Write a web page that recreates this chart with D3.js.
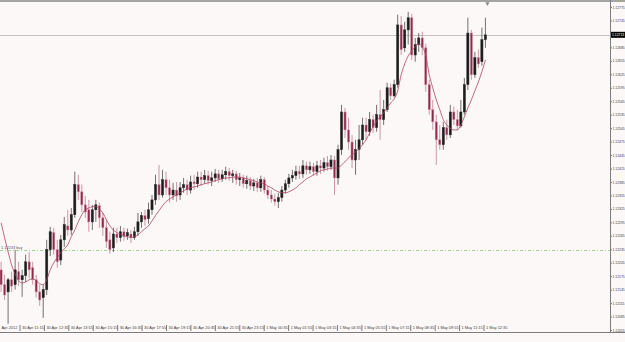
<!DOCTYPE html>
<html>
<head>
<meta charset="utf-8">
<script src="https://cdn.jsdelivr.net/npm/d3@7"></script>
<style>
  body { margin: 0; background: #fcf8f7; }
  svg { display: block; }
</style>
</head>
<body>
<div id="content"></div>
<script>
// EURUSD-style 5 digit quotes, one entry per candle
let opens = [1.12189,1.12156,1.12140,1.12167,1.12156,1.12185,1.12167,1.12176,1.12207,1.12194,
  1.12167,1.12140,1.12127,1.12145,1.12234,1.12272,1.12234,1.12211,1.12256,1.12287,
  1.12278,1.12312,1.12379,1.12363,1.12334,1.12323,1.12296,1.12323,1.12332,1.12305,
  1.12283,1.12256,1.12238,1.12269,1.12261,1.12274,1.12265,1.12269,1.12261,1.12274,
  1.12296,1.12310,1.12303,1.12323,1.12345,1.12379,1.12356,1.12390,1.12372,1.12356,
  1.12367,1.12356,1.12372,1.12379,1.12367,1.12385,1.12381,1.12396,1.12390,1.12399,
  1.12388,1.12394,1.12403,1.12392,1.12401,1.12408,1.12399,1.12403,1.12390,1.12394,
  1.12381,1.12388,1.12376,1.12383,1.12372,1.12390,1.12367,1.12356,1.12347,1.12341,
  1.12350,1.12367,1.12381,1.12394,1.12399,1.12408,1.12403,1.12421,1.12412,1.12419,
  1.12408,1.12421,1.12416,1.12428,1.12419,1.12434,1.12394,1.12457,1.12541,1.12501,
  1.12474,1.12434,1.12457,1.12479,1.12512,1.12497,1.12524,1.12506,1.12535,1.12524,
  1.12546,1.12595,1.12577,1.12602,1.12735,1.12684,1.12724,1.12751,1.12668,1.12691,
  1.12706,1.12684,1.12602,1.12546,1.12519,1.12479,1.12468,1.12506,1.12490,1.12541,
  1.12524,1.12510,1.12541,1.12602,1.12717,1.12624,1.12662,1.12653,1.12702];

let highs = [1.12207,1.12178,1.12171,1.12185,1.12234,1.12207,1.12189,1.12223,1.12229,1.12207,
  1.12178,1.12156,1.12156,1.12256,1.12285,1.12283,1.12256,1.12267,1.12307,1.12323,
  1.12327,1.12408,1.12401,1.12379,1.12354,1.12345,1.12334,1.12345,1.12339,1.12316,
  1.12301,1.12274,1.12283,1.12283,1.12287,1.12283,1.12281,1.12278,1.12285,1.12316,
  1.12318,1.12323,1.12339,1.12356,1.12401,1.12423,1.12412,1.12408,1.12390,1.12383,
  1.12385,1.12385,1.12394,1.12390,1.12399,1.12401,1.12408,1.12408,1.12412,1.12410,
  1.12408,1.12414,1.12412,1.12412,1.12419,1.12416,1.12412,1.12410,1.12405,1.12401,
  1.12399,1.12396,1.12392,1.12394,1.12399,1.12396,1.12376,1.12367,1.12359,1.12361,
  1.12376,1.12390,1.12403,1.12412,1.12421,1.12421,1.12434,1.12430,1.12430,1.12428,
  1.12432,1.12434,1.12439,1.12443,1.12445,1.12443,1.12468,1.12557,1.12550,1.12528,
  1.12490,1.12479,1.12512,1.12528,1.12528,1.12541,1.12535,1.12557,1.12590,1.12568,
  1.12606,1.12604,1.12613,1.12758,1.12755,1.12742,1.12764,1.12760,1.12706,1.12717,
  1.12720,1.12693,1.12613,1.12568,1.12535,1.12512,1.12519,1.12524,1.12557,1.12553,
  1.12546,1.12568,1.12617,1.12751,1.12724,1.12675,1.12680,1.12729,1.12751];

let lows = [1.12140,1.12122,1.12069,1.12140,1.12145,1.12153,1.12129,1.12162,1.12171,1.12156,
  1.12127,1.12109,1.12082,1.12133,1.12220,1.12223,1.12194,1.12200,1.12240,1.12265,
  1.12267,1.12305,1.12345,1.12318,1.12305,1.12274,1.12278,1.12296,1.12283,1.12265,
  1.12238,1.12225,1.12229,1.12249,1.12252,1.12254,1.12256,1.12249,1.12256,1.12265,
  1.12283,1.12287,1.12292,1.12312,1.12334,1.12345,1.12350,1.12356,1.12339,1.12345,
  1.12341,1.12345,1.12361,1.12356,1.12359,1.12367,1.12372,1.12376,1.12381,1.12379,
  1.12376,1.12385,1.12383,1.12385,1.12390,1.12388,1.12383,1.12379,1.12376,1.12372,
  1.12370,1.12367,1.12365,1.12363,1.12363,1.12359,1.12347,1.12339,1.12332,1.12327,
  1.12341,1.12359,1.12372,1.12385,1.12390,1.12392,1.12394,1.12401,1.12403,1.12399,
  1.12399,1.12403,1.12408,1.12410,1.12412,1.12356,1.12379,1.12445,1.12483,1.12457,
  1.12416,1.12401,1.12434,1.12468,1.12479,1.12488,1.12494,1.12497,1.12479,1.12512,
  1.12541,1.12568,1.12573,1.12595,1.12668,1.12675,1.12691,1.12657,1.12653,1.12675,
  1.12668,1.12586,1.12535,1.12501,1.12423,1.12457,1.12457,1.12479,1.12483,1.12512,
  1.12501,1.12506,1.12535,1.12590,1.12613,1.12617,1.12639,1.12644,1.12684];

let closes = [1.12156,1.12133,1.12167,1.12153,1.12189,1.12167,1.12176,1.12207,1.12189,1.12167,
  1.12140,1.12122,1.12145,1.12234,1.12274,1.12234,1.12207,1.12256,1.12290,1.12278,
  1.12312,1.12379,1.12363,1.12334,1.12318,1.12296,1.12323,1.12334,1.12305,1.12283,
  1.12252,1.12234,1.12269,1.12261,1.12274,1.12263,1.12272,1.12261,1.12274,1.12296,
  1.12310,1.12301,1.12323,1.12345,1.12379,1.12356,1.12390,1.12372,1.12356,1.12367,
  1.12354,1.12372,1.12379,1.12367,1.12385,1.12381,1.12396,1.12390,1.12399,1.12388,
  1.12394,1.12403,1.12392,1.12401,1.12408,1.12399,1.12403,1.12390,1.12394,1.12381,
  1.12388,1.12376,1.12383,1.12372,1.12390,1.12367,1.12356,1.12347,1.12341,1.12350,
  1.12367,1.12381,1.12394,1.12399,1.12408,1.12403,1.12421,1.12412,1.12419,1.12408,
  1.12421,1.12416,1.12428,1.12419,1.12434,1.12394,1.12457,1.12541,1.12501,1.12474,
  1.12434,1.12457,1.12479,1.12512,1.12497,1.12524,1.12506,1.12535,1.12524,1.12546,
  1.12595,1.12577,1.12602,1.12735,1.12680,1.12724,1.12751,1.12668,1.12691,1.12706,
  1.12684,1.12602,1.12546,1.12519,1.12479,1.12468,1.12506,1.12490,1.12541,1.12524,
  1.12510,1.12541,1.12602,1.12717,1.12624,1.12662,1.12648,1.12702,1.12713];

// moving average as plotted (its first values come from bars left of the window)
let maValues = [1.12294,1.12261,1.12229,1.12200,1.12180,1.12165,1.12160,1.12162,1.12167,1.12169,
  1.12165,1.12158,1.12156,1.12167,1.12189,1.12205,1.12216,1.12227,1.12236,1.12245,
  1.12263,1.12278,1.12296,1.12312,1.12323,1.12327,1.12330,1.12330,1.12325,1.12316,
  1.12301,1.12287,1.12278,1.12272,1.12269,1.12265,1.12263,1.12261,1.12263,1.12267,
  1.12274,1.12281,1.12287,1.12298,1.12310,1.12321,1.12332,1.12341,1.12347,1.12352,
  1.12356,1.12361,1.12365,1.12370,1.12372,1.12374,1.12376,1.12379,1.12381,1.12383,
  1.12385,1.12388,1.12390,1.12392,1.12394,1.12394,1.12396,1.12396,1.12396,1.12394,
  1.12392,1.12390,1.12388,1.12385,1.12383,1.12381,1.12376,1.12372,1.12367,1.12363,
  1.12361,1.12361,1.12363,1.12367,1.12372,1.12379,1.12385,1.12392,1.12396,1.12401,
  1.12405,1.12410,1.12412,1.12414,1.12416,1.12416,1.12416,1.12423,1.12430,1.12439,
  1.12445,1.12452,1.12459,1.12468,1.12479,1.12494,1.12508,1.12521,1.12530,1.12539,
  1.12550,1.12561,1.12570,1.12588,1.12624,1.12648,1.12666,1.12677,1.12686,1.12693,
  1.12686,1.12668,1.12624,1.12595,1.12568,1.12546,1.12524,1.12512,1.12504,1.12501,
  1.12501,1.12512,1.12530,1.12550,1.12568,1.12588,1.12608,1.12631,1.12657];

let priceTicks = [1.12055,1.12085,1.12115,1.12145,1.12175,1.12205,1.12235,1.12265,1.12295,
  1.12325,1.12355,1.12385,1.12415,1.12445,1.12475,1.12505,1.12535,1.12565,1.12595,
  1.12625,1.12655,1.12685,1.12715,1.12745,1.12775];

let timeLabels = ["30 Apr 11:15","30 Apr 12:35","30 Apr 13:55","30 Apr 15:15","30 Apr 16:35",
  "30 Apr 17:55","30 Apr 19:15","30 Apr 20:35","30 Apr 21:55","30 Apr 23:15",
  "1 May 00:35","1 May 01:55","1 May 03:15","1 May 04:35","1 May 05:55",
  "1 May 07:15","1 May 08:35","1 May 09:55","1 May 11:15","1 May 12:35"];
let firstDateLabel = "Apr 2012";

let buyLevel = 1.12233;
let buyLabel = "1.12233 buy";

let width = 625;
let height = 342;
let plotRight = 610;
let plotBottom = 325;
let font = "'Liberation Sans', Arial, sans-serif";

let svg = d3.select("#content").append("svg")
  .attr("width", width)
  .attr("height", height);

svg.append("rect").attr("width", width).attr("height", height).attr("fill", "#fcf8f7");

let x = d3.scaleBand().domain(d3.range(closes.length)).range([0, 486.5]).paddingInner(0.38);
let cx = i => x(i) + x.bandwidth() / 2;
let y = d3.scaleLinear().domain([1.12055, 1.12775]).range([330, 7]);

let parseTime = d3.timeParse("%d %b %H:%M %Y");
let labelDates = timeLabels.map(s => parseTime(s + " 2012"));
let xTime = d3.scaleTime()
  .domain([labelDates[0], labelDates[labelDates.length - 1]])
  .range([21, 485]);

svg.append("clipPath").attr("id", "plot-clip")
  .append("rect").attr("x", 0).attr("y", 2).attr("width", plotRight).attr("height", plotBottom - 2);

let plot = svg.append("g").attr("clip-path", "url(#plot-clip)");

let lastClose = closes[closes.length - 1];

// current bid line
plot.append("line")
  .attr("x1", 0).attr("x2", plotRight)
  .attr("y1", Math.round(y(lastClose)) + 0.5).attr("y2", Math.round(y(lastClose)) + 0.5)
  .style("stroke", "#c6c2c2").style("stroke-width", 1);

// pending order level
plot.append("line")
  .attr("x1", 0).attr("x2", plotRight)
  .attr("y1", Math.round(y(buyLevel)) + 0.5).attr("y2", Math.round(y(buyLevel)) + 0.5)
  .style("stroke", "#9ed39a").style("stroke-width", 1)
  .style("stroke-dasharray", "3,2,1,2");

plot.append("text")
  .attr("x", 1).attr("y", y(buyLevel) - 1.5)
  .style("font-family", font).style("font-size", "3.9px").style("fill", "#555")
  .text(buyLabel);

let candles = plot.selectAll("g.candle")
  .data(closes.map((c, i) => ({o: opens[i], h: highs[i], l: lows[i], c: c, i: i})))
  .enter().append("g").attr("class", "candle");

candles.append("line")
  .attr("x1", d => cx(d.i)).attr("x2", d => cx(d.i))
  .attr("y1", d => y(d.h)).attr("y2", d => y(d.l))
  .style("stroke", d => d.c >= d.o ? "#444" : "#bd7590")
  .style("stroke-width", 0.75);

candles.append("rect")
  .attr("x", d => x(d.i))
  .attr("width", x.bandwidth())
  .attr("y", d => y(Math.max(d.o, d.c)))
  .attr("height", d => Math.max(1, Math.abs(y(d.o) - y(d.c))))
  .style("fill", d => d.c >= d.o ? "#1c1c1c" : "#8e2a4c")
  .style("stroke", d => d.c >= d.o ? "#2a2a2a" : "#d592aa")
  .style("stroke-width", 0.5);

// moving average
plot.append("path")
  .datum(maValues)
  .attr("d", d3.line().x((d, i) => cx(i)).y(d => y(d)).curve(d3.curveMonotoneX))
  .style("fill", "none")
  .style("stroke", "#ad4466")
  .style("stroke-width", 0.8);

// chart frame
svg.append("line").attr("x1", 0).attr("x2", width).attr("y1", 1).attr("y2", 1)
  .style("stroke", "#a4a4a4").style("stroke-width", 2);
svg.append("line").attr("x1", plotRight + 0.5).attr("x2", plotRight + 0.5).attr("y1", 0).attr("y2", 332)
  .style("stroke", "#7c7c7c").style("stroke-width", 1);
svg.append("line").attr("x1", 0).attr("x2", width).attr("y1", 332.5).attr("y2", 332.5)
  .style("stroke", "#7c7c7c").style("stroke-width", 1);

// shift marker at the top
svg.append("path")
  .attr("d", d3.symbol().type(d3.symbolTriangle).size(8))
  .attr("transform", "translate(" + (cx(closes.length - 1) + 2) + ",3.5) rotate(180)")
  .style("fill", "#8c8c8c");

// price scale
let yAxis = d3.axisRight(y)
  .tickValues(priceTicks.filter(v => Math.abs(y(v) - y(lastClose)) > 6))
  .tickSize(1.5)
  .tickPadding(0.5)
  .tickFormat(d3.format(".5f"));

let yAxisG = svg.append("g")
  .attr("transform", "translate(" + (plotRight + 0.5) + ",0)")
  .call(yAxis);
yAxisG.select(".domain").remove();
yAxisG.selectAll("line").style("stroke", "#7c7c7c");
yAxisG.selectAll("text").style("font-family", font).style("font-size", "3.4px").style("fill", "#3c3c3c");

svg.append("rect")
  .attr("x", plotRight + 1).attr("y", y(lastClose) - 3)
  .attr("width", width - plotRight - 1).attr("height", 6)
  .style("fill", "#000");
svg.append("text")
  .attr("x", plotRight + 2).attr("y", y(lastClose))
  .attr("dy", "0.35em")
  .style("font-family", font).style("font-size", "3.4px").style("fill", "#fff")
  .text(d3.format(".5f")(lastClose));

// time scale
let xAxis = d3.axisBottom(xTime)
  .tickValues(labelDates)
  .tickSize(6)
  .tickFormat((d, i) => timeLabels[i]);

let xAxisG = svg.append("g")
  .attr("transform", "translate(0," + plotBottom + ")")
  .call(xAxis);
xAxisG.select(".domain").remove();
xAxisG.selectAll("line").style("stroke", "#7c7c7c").attr("transform", "translate(-1.5,0)");
xAxisG.selectAll("text")
  .attr("x", 0.5).attr("y", 1).attr("dy", "0.71em")
  .style("text-anchor", "start")
  .style("font-family", font).style("font-size", "3.9px").style("fill", "#3c3c3c");

svg.append("text")
  .attr("x", 1.5).attr("y", plotBottom + 1).attr("dy", "0.71em")
  .style("font-family", font).style("font-size", "3.9px").style("fill", "#3c3c3c")
  .text(firstDateLabel);
</script>
</body>
</html>
